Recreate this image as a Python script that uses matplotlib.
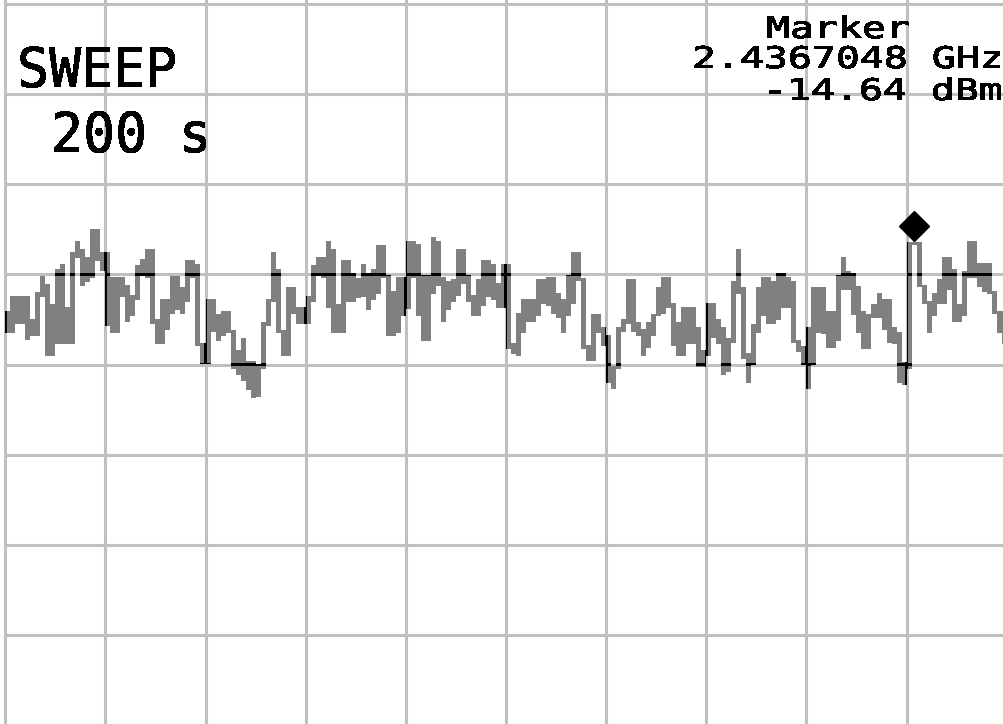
import numpy as np
import matplotlib
matplotlib.use("Agg")
import matplotlib.pyplot as plt
from matplotlib.path import Path
from matplotlib.patches import PathPatch
from matplotlib.transforms import Affine2D
import matplotlib.patheffects as pe

# ---------------- data ----------------
# trace: per display column, the highest and lowest level reached (dBm)
trace_hi = [
    -24.2, -22.5, -22.5, -22.5, -22.5, -25.1, -22.1, -20.3, -21.2, -23.4,
    -19.5, -19.0, -23.8, -17.7, -16.4, -17.3, -18.2, -15.1, -15.1, -17.7,
    -17.7, -20.4, -20.4, -20.4, -21.3, -22.4, -19.1, -18.4, -17.3, -17.3,
    -25.1, -22.9, -22.9, -20.3, -20.3, -21.5, -18.6, -18.6, -19.0, -27.8,
    -22.9, -22.9, -24.5, -24.2, -24.2, -26.3, -28.5, -27.2, -29.8, -29.8,
    -30.1, -25.4, -22.9, -17.7, -19.5, -26.3, -21.6, -21.6, -23.8, -23.8,
    -22.5, -19.1, -18.2, -18.2, -16.4, -17.3, -23.4, -18.6, -18.6, -20.0,
    -20.6, -19.0, -20.0, -19.5, -16.9, -16.9, -20.2, -22.0, -20.4, -20.4,
    -16.4, -16.4, -16.8, -20.2, -20.2, -16.0, -16.4, -20.4, -20.9, -20.7,
    -17.3, -17.3, -20.2, -22.4, -20.7, -18.6, -18.6, -19.0, -21.1, -19.0,
    -19.0, -27.8, -24.4, -22.9, -22.9, -22.9, -20.7, -20.7, -20.4, -20.4,
    -22.2, -22.9, -20.2, -17.7, -17.7, -20.6, -28.0, -24.5, -24.5, -26.0,
    -26.9, -30.3, -26.0, -25.1, -20.7, -20.7, -25.4, -26.2, -25.4, -24.5,
    -21.6, -20.4, -20.4, -23.3, -25.4, -23.8, -23.8, -23.8, -26.0, -28.5,
    -23.3, -23.3, -25.1, -26.0, -27.2, -20.9, -17.3, -21.5, -28.9, -25.6,
    -21.6, -20.4, -20.4, -20.9, -20.0, -20.0, -20.4, -20.9, -27.4, -28.1,
    -26.0, -21.6, -21.6, -21.6, -24.2, -24.2, -20.2, -18.2, -19.8, -20.0,
    -21.4, -24.2, -24.5, -23.4, -22.2, -22.9, -22.9, -26.0, -26.5, -29.9,
    -16.6, -16.6, -16.6, -21.3, -23.1, -22.2, -20.7, -18.2, -18.2, -19.5,
    -23.4, -19.8, -16.4, -16.4, -18.9, -18.9, -18.9, -22.0, -24.2, -24.2,
]
trace_lo = [
    -26.3, -26.3, -25.4, -25.3, -27.1, -26.7, -26.7, -22.4, -28.9, -28.9,
    -27.6, -27.6, -27.6, -27.6, -18.0, -21.1, -20.7, -20.2, -18.4, -19.5,
    -25.6, -26.3, -26.3, -22.4, -25.1, -24.5, -22.7, -20.0, -20.2, -25.4,
    -27.6, -27.6, -26.0, -24.2, -23.8, -24.2, -22.9, -20.2, -27.8, -29.8,
    -29.8, -26.2, -27.2, -26.7, -26.3, -30.3, -31.0, -31.7, -32.7, -33.6,
    -33.4, -30.3, -25.6, -22.9, -26.3, -28.9, -28.9, -24.2, -25.4, -25.4,
    -25.4, -22.9, -20.0, -20.2, -23.6, -26.3, -26.3, -26.3, -22.9, -22.9,
    -22.5, -22.4, -23.8, -22.7, -22.0, -20.2, -26.7, -26.7, -26.3, -24.5,
    -23.7, -20.2, -24.5, -27.2, -27.2, -22.0, -21.1, -25.1, -23.8, -22.9,
    -22.2, -20.9, -22.9, -24.5, -24.5, -23.3, -22.4, -22.7, -23.6, -23.6,
    -28.1, -28.7, -28.9, -26.3, -25.1, -25.1, -24.5, -23.1, -23.3, -24.2,
    -24.7, -26.3, -24.5, -23.1, -20.6, -28.1, -29.4, -29.4, -26.3, -27.8,
    -31.9, -32.5, -30.3, -26.2, -25.3, -26.2, -26.7, -28.9, -28.0, -26.7,
    -24.5, -24.2, -23.6, -27.8, -28.9, -28.9, -27.6, -27.6, -30.1, -30.1,
    -28.9, -26.9, -27.6, -31.0, -30.7, -27.4, -22.0, -29.2, -31.9, -29.9,
    -26.3, -24.5, -25.4, -25.4, -24.9, -23.6, -23.6, -27.4, -28.5, -29.9,
    -32.5, -29.9, -26.3, -26.5, -28.0, -28.0, -27.2, -21.6, -21.6, -24.3,
    -26.3, -28.1, -28.1, -24.7, -24.7, -26.0, -27.4, -27.6, -31.9, -32.1,
    -30.3, -16.6, -21.3, -23.1, -26.3, -24.5, -23.1, -23.1, -21.6, -25.1,
    -25.1, -24.5, -20.2, -20.2, -21.3, -21.8, -22.0, -24.2, -26.3, -27.6,
]
ref_level = 10.0          # dBm, top graticule line
db_per_div = 10.0
n_div_x = 10
n_div_y = 8
marker_col = 181.5
marker_level = -14.64
marker_freq_text = "2.4367048 GHz"
marker_level_text = "-14.64 dBm"
sweep_label = "SWEEP"
sweep_time = "200 s"

# ---------------- figure ----------------
W, H = 1004, 724
fig = plt.figure(figsize=(W / 100, H / 100), dpi=100, facecolor="white")
ax = fig.add_axes([0, 0, 1, 1])
ax.set_axis_off()

px_per_col = 5.0075
x0_px = 5.2
px_per_db = 9.024
y0_px = 3.66
ax.set_xlim(-x0_px / px_per_col, (W - x0_px) / px_per_col)
ax.set_ylim(ref_level - (H - y0_px) / px_per_db, ref_level + y0_px / px_per_db)

cols_per_div = len(trace_hi) / n_div_x
vgrid = np.arange(n_div_x + 1) * cols_per_div
hgrid = ref_level - np.arange(n_div_y + 1) * db_per_div
gcol = "#c0c0c0"
ax.vlines(vgrid, -200, 100, colors=gcol, linewidth=2.2, zorder=1)
ax.hlines(hgrid, vgrid[0] - 0.3, vgrid[-1] + 5, colors=gcol, linewidth=2.2, zorder=1)

# ---------------- trace ----------------
hi = np.array(trace_hi)
lo = np.array(trace_lo)
n = len(hi)
xe = np.arange(n + 1)
pad = 0.15
hi_e = np.append(hi, hi[-1]) + pad
lo_e = np.append(lo, lo[-1]) - pad
ax.fill_between(xe, lo_e, hi_e, step="post", color="#808080", linewidth=0, zorder=2)
blk = ax.fill_between(xe, lo_e, hi_e, step="post", color="black", linewidth=0, zorder=3)

# trace turns black where it crosses graticule lines
hw = 1.5 / px_per_col
hh = 1.5 / px_per_db
verts, codes = [], []
def add_rect(x0, x1, y0, y1):
    verts.extend([(x0, y0), (x1, y0), (x1, y1), (x0, y1), (x0, y0)])
    codes.extend([Path.MOVETO, Path.LINETO, Path.LINETO, Path.LINETO, Path.CLOSEPOLY])
for gx in vgrid:
    add_rect(gx - hw, gx + hw, -200, 100)
for gy in hgrid:
    add_rect(-5, 250, gy - hh, gy + hh)
clip = PathPatch(Path(verts, codes), transform=ax.transData, facecolor="none", edgecolor="none")
blk.set_clip_path(clip)

# marker
ax.plot([marker_col], [marker_level], linestyle="none", marker="D", ms=15,
        color="black", zorder=4)

# ---------------- text ----------------
class HStretch(pe.AbstractPathEffect):
    def __init__(self, sx):
        super().__init__()
        self._sx = sx
    def draw_path(self, renderer, gc, tpath, affine, rgbFace=None):
        renderer.draw_path(gc, tpath, Affine2D().scale(self._sx, 1.0) + affine, rgbFace)

mono = "DejaVu Sans Mono"
def put(x, y, s, size, sx):
    fig.text(x / W, 1 - y / H, s, ha="left", va="baseline", fontsize=size,
             family=mono, color="black", zorder=5, antialiased=False,
             path_effects=[HStretch(sx)])

put(17, 87, sweep_label, 39.5, 0.97)
put(51, 152, sweep_time, 39.5, 0.97)
put(766, 38, "Marker", 21.4, 1.34)
put(692, 68, marker_freq_text, 21.4, 1.34)
put(763, 100, marker_level_text, 21.4, 1.34)

fig.savefig("out.png", dpi=100, facecolor="white")
